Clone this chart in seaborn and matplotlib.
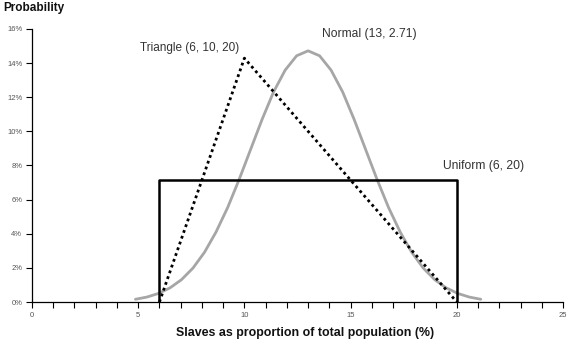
import matplotlib
matplotlib.use("Agg")
import matplotlib.pyplot as plt
import seaborn as sns
import pandas as pd
from matplotlib.ticker import MultipleLocator, FuncFormatter

# Data
normal_x = [4.87, 5.41, 5.95, 6.50, 7.04, 7.58, 8.12, 8.66, 9.21, 9.75, 10.29,
            10.83, 11.37, 11.92, 12.46, 13.0, 13.54, 14.08, 14.63, 15.17, 15.71,
            16.25, 16.79, 17.34, 17.88, 18.42, 18.96, 19.50, 20.05, 20.59, 21.13]
normal_y = [0.0016, 0.0029, 0.0050, 0.0083, 0.0131, 0.0199, 0.0291, 0.0409, 0.0553, 0.0717, 0.0893,
            0.1069, 0.1230, 0.1359, 0.1443, 0.1472, 0.1443, 0.1359, 0.1230, 0.1069, 0.0893,
            0.0717, 0.0553, 0.0409, 0.0291, 0.0199, 0.0131, 0.0083, 0.0050, 0.0029, 0.0016]
triangle_x = [6, 10, 20]
triangle_y = [0.0, 0.1429, 0.0]
uniform_x = [6, 6, 20, 20]
uniform_y = [0.0, 0.0714, 0.0714, 0.0]

labels = ["Normal (13, 2.71)", "Triangle (6, 10, 20)", "Uniform (6, 20)"]

sns.set_style("white")
plt.rcParams['font.family'] = ['Liberation Sans', 'DejaVu Sans']

fig = plt.figure(figsize=(5.71, 3.43), dpi=100)
ax = fig.add_axes([0.056, 0.1195, 0.930, 0.796])

dfn = pd.DataFrame({"x": normal_x, "y": normal_y})
dft = pd.DataFrame({"x": triangle_x, "y": triangle_y})
dfu = pd.DataFrame({"x": uniform_x, "y": uniform_y})

sns.lineplot(data=dfn, x="x", y="y", ax=ax, color="#a6a6a6", lw=2.0, sort=False,
             estimator=None)
sns.lineplot(data=dft, x="x", y="y", ax=ax, color="black", lw=2.0, sort=False,
             estimator=None, linestyle=(0, (1, 1.2)))
sns.lineplot(data=dfu, x="x", y="y", ax=ax, color="black", lw=1.8, sort=False,
             estimator=None)

ax.set_xlim(0, 25)
ax.set_ylim(0, 0.16)
ax.xaxis.set_major_locator(MultipleLocator(5))
ax.xaxis.set_minor_locator(MultipleLocator(1))
ax.yaxis.set_major_locator(MultipleLocator(0.02))
ax.yaxis.set_major_formatter(FuncFormatter(lambda v, p: f"{v*100:.0f}%"))

for s in ["top", "right"]:
    ax.spines[s].set_visible(False)
for s in ["left", "bottom"]:
    ax.spines[s].set_color("black")
    ax.spines[s].set_linewidth(0.9)

ax.tick_params(axis="both", which="both", direction="out", color="black", width=0.8)
ax.tick_params(axis="both", which="major", length=4, labelsize=5.5, labelcolor="#555555", pad=3)
ax.tick_params(axis="x", which="minor", length=4)
ax.tick_params(bottom=True, left=True)
ax.tick_params(axis="x", which="minor", bottom=True)

ax.set_xlabel("")
ax.set_ylabel("")
fig.text(305.5 / 571, 1 - 333 / 343, "Slaves as proportion of total population (%)",
         fontsize=8.9, fontweight="bold", color="#111111", ha="center", va="center")
fig.text(0.005, 1 - 8.5 / 343, "Probability", fontsize=8.5, fontweight="bold",
         color="#111111", ha="left", va="center")

ax.text(5.08, 0.1488, labels[1], fontsize=8.5, color="#333333", va="center", ha="left")
ax.text(13.65, 0.1570, labels[0], fontsize=8.7, color="#333333", va="center", ha="left")
ax.text(19.34, 0.0797, labels[2], fontsize=8.7, color="#333333", va="center", ha="left")

fig.savefig("out.png", dpi=100)
